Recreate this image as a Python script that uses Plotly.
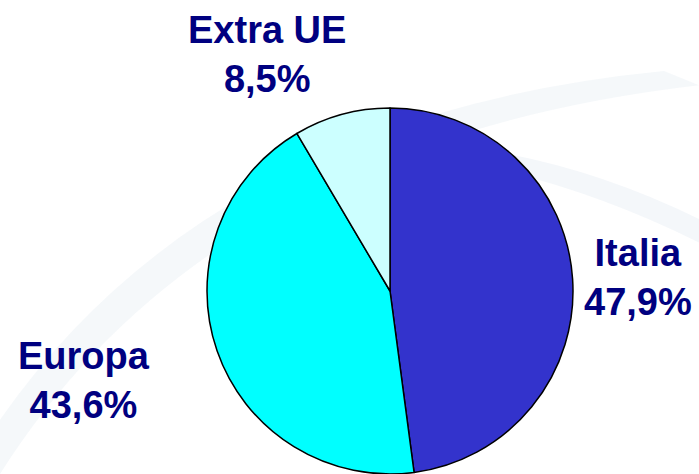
import plotly.graph_objects as go

labels = ["Italia", "Europa", "Extra UE"]
values = [47.9, 43.6, 8.5]
pct_text = ["47,9%", "43,6%", "8,5%"]
colors = ["#3333CC", "#00FFFF", "#CCFFFF"]
label_pos = [(638, 248), (84, 351), (267, 25)]  # px centres of first line

W, H = 699, 474
fig = go.Figure()
fig.add_trace(go.Pie(
    labels=labels, values=values, sort=False, direction="clockwise", rotation=0,
    marker=dict(colors=colors, line=dict(color="black", width=1.5)),
    textinfo="none", hoverinfo="label+percent", showlegend=False,
    domain=dict(x=[207 / W, 573 / W], y=[0 / H, 366 / H]),
))

# faint background swooshes
fig.add_shape(type="path", xref="paper", yref="paper", layer="below",
              path="M -0.05 0.0 Q 0.25 0.75 0.95 0.85 L 1.0 0.82 Q 0.3 0.7 0.0 0.0 Z",
              fillcolor="rgba(200,215,230,0.18)", line=dict(width=0))
fig.add_shape(type="path", xref="paper", yref="paper", layer="below",
              path="M 0.55 0.68 Q 0.8 0.65 1.05 0.45 L 1.05 0.5 Q 0.8 0.7 0.55 0.7 Z",
              fillcolor="rgba(200,215,230,0.2)", line=dict(width=0))

for lab, pct, (px, py) in zip(labels, pct_text, label_pos):
    fig.add_annotation(x=px / W, y=1 - py / H, xref="paper", yref="paper",
                       text=f"<b>{lab}</b><br><b>{pct}</b>", showarrow=False,
                       yanchor="top", xanchor="center",
                       font=dict(family="Liberation Sans, Arial", size=38, color="#000080"),
                       yshift=18)

fig.update_layout(width=W, height=H, margin=dict(l=0, r=0, t=0, b=0),
                  paper_bgcolor="white", plot_bgcolor="white")
fig.write_html("out.html", config={"displayModeBar": False},
               post_script="document.body.style.margin='0';")
